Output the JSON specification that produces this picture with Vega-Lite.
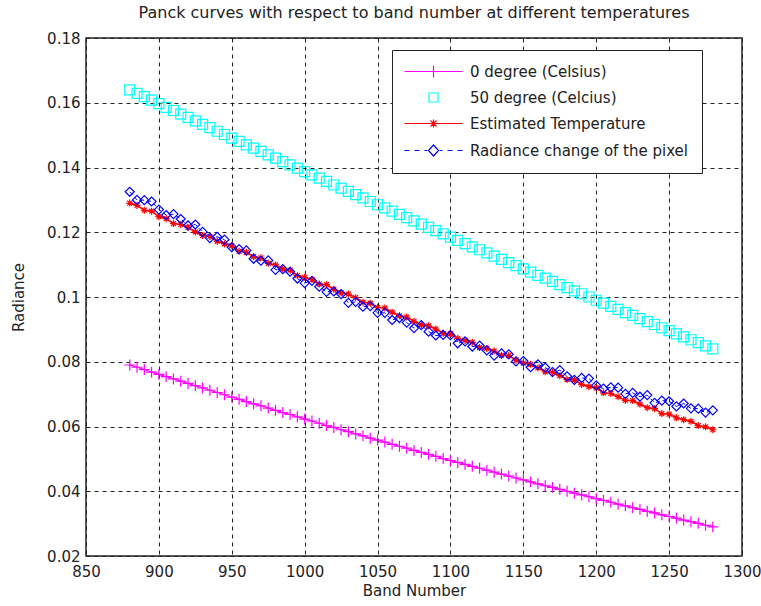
{
  "$schema": "https://vega.github.io/schema/vega-lite/v6.json",
  "width": 656,
  "height": 518,
  "autosize": {"type": "none"},
  "padding": {"left": 86, "top": 38, "right": 19, "bottom": 50},
  "background": "white",
  "title": {"text": "Panck curves with respect to band number at different temperatures", "font": "DejaVu Sans", "fontSize": 16, "fontWeight": "normal", "color": "#222", "offset": 10},
  "config": {"view": {"stroke": "#222", "strokeWidth": 1.5}, "font": "DejaVu Sans",
    "legend": {"title": null, "orient": "none", "legendX": 306, "legendY": 12, "padding": 14, "fillColor": "white", "strokeColor": "#222", "labelFont": "DejaVu Sans", "labelFontSize": 15, "labelColor": "#222", "labelLimit": 400, "rowPadding": 10, "symbolOffset": 20, "labelOffset": 29, "symbolStrokeWidth": 1.2, "symbolSize": 100, "symbolOpacity": 1}},
  "data": {"values": [
    {"b":880,"m":0.0790,"c":0.1640,"e":0.1290,"r":0.1325},
    {"b":885,"m":0.0783,"c":0.1629,"e":0.1283,"r":0.1300},
    {"b":890,"m":0.0776,"c":0.1619,"e":0.1268,"r":0.1299},
    {"b":895,"m":0.0768,"c":0.1608,"e":0.1265,"r":0.1295},
    {"b":900,"m":0.0761,"c":0.1597,"e":0.1248,"r":0.1270},
    {"b":905,"m":0.0754,"c":0.1586,"e":0.1242,"r":0.1253},
    {"b":910,"m":0.0747,"c":0.1576,"e":0.1227,"r":0.1256},
    {"b":915,"m":0.0740,"c":0.1565,"e":0.1224,"r":0.1241},
    {"b":920,"m":0.0733,"c":0.1555,"e":0.1215,"r":0.1221},
    {"b":925,"m":0.0726,"c":0.1544,"e":0.1201,"r":0.1224},
    {"b":930,"m":0.0719,"c":0.1533,"e":0.1190,"r":0.1201},
    {"b":935,"m":0.0712,"c":0.1523,"e":0.1187,"r":0.1182},
    {"b":940,"m":0.0705,"c":0.1512,"e":0.1172,"r":0.1186},
    {"b":945,"m":0.0698,"c":0.1502,"e":0.1164,"r":0.1177},
    {"b":950,"m":0.0691,"c":0.1491,"e":0.1158,"r":0.1154},
    {"b":955,"m":0.0684,"c":0.1481,"e":0.1141,"r":0.1148},
    {"b":960,"m":0.0677,"c":0.1470,"e":0.1138,"r":0.1144},
    {"b":965,"m":0.0670,"c":0.1460,"e":0.1125,"r":0.1118},
    {"b":970,"m":0.0664,"c":0.1450,"e":0.1121,"r":0.1112},
    {"b":975,"m":0.0657,"c":0.1439,"e":0.1104,"r":0.1113},
    {"b":980,"m":0.0650,"c":0.1429,"e":0.1099,"r":0.1084},
    {"b":985,"m":0.0643,"c":0.1418,"e":0.1087,"r":0.1086},
    {"b":990,"m":0.0637,"c":0.1408,"e":0.1083,"r":0.1078},
    {"b":995,"m":0.0630,"c":0.1398,"e":0.1066,"r":0.1057},
    {"b":1000,"m":0.0623,"c":0.1387,"e":0.1061,"r":0.1043},
    {"b":1005,"m":0.0617,"c":0.1377,"e":0.1054,"r":0.1050},
    {"b":1010,"m":0.0610,"c":0.1367,"e":0.1040,"r":0.1032},
    {"b":1015,"m":0.0603,"c":0.1357,"e":0.1038,"r":0.1016},
    {"b":1020,"m":0.0597,"c":0.1346,"e":0.1024,"r":0.1017},
    {"b":1025,"m":0.0590,"c":0.1336,"e":0.1013,"r":0.1009},
    {"b":1030,"m":0.0584,"c":0.1326,"e":0.1009,"r":0.0982},
    {"b":1035,"m":0.0577,"c":0.1316,"e":0.0998,"r":0.0985},
    {"b":1040,"m":0.0571,"c":0.1306,"e":0.0984,"r":0.0970},
    {"b":1045,"m":0.0564,"c":0.1295,"e":0.0981,"r":0.0972},
    {"b":1050,"m":0.0558,"c":0.1285,"e":0.0968,"r":0.0951},
    {"b":1055,"m":0.0552,"c":0.1275,"e":0.0966,"r":0.0951},
    {"b":1060,"m":0.0545,"c":0.1265,"e":0.0953,"r":0.0929},
    {"b":1065,"m":0.0539,"c":0.1255,"e":0.0942,"r":0.0935},
    {"b":1070,"m":0.0533,"c":0.1245,"e":0.0938,"r":0.0921},
    {"b":1075,"m":0.0526,"c":0.1235,"e":0.0925,"r":0.0904},
    {"b":1080,"m":0.0520,"c":0.1225,"e":0.0914,"r":0.0913},
    {"b":1085,"m":0.0514,"c":0.1215,"e":0.0911,"r":0.0893},
    {"b":1090,"m":0.0508,"c":0.1205,"e":0.0901,"r":0.0881},
    {"b":1095,"m":0.0501,"c":0.1195,"e":0.0888,"r":0.0883},
    {"b":1100,"m":0.0495,"c":0.1185,"e":0.0887,"r":0.0882},
    {"b":1105,"m":0.0489,"c":0.1175,"e":0.0872,"r":0.0857},
    {"b":1110,"m":0.0483,"c":0.1165,"e":0.0866,"r":0.0863},
    {"b":1115,"m":0.0477,"c":0.1155,"e":0.0860,"r":0.0847},
    {"b":1120,"m":0.0471,"c":0.1146,"e":0.0844,"r":0.0850},
    {"b":1125,"m":0.0465,"c":0.1136,"e":0.0841,"r":0.0835},
    {"b":1130,"m":0.0459,"c":0.1126,"e":0.0833,"r":0.0819},
    {"b":1135,"m":0.0453,"c":0.1116,"e":0.0820,"r":0.0826},
    {"b":1140,"m":0.0447,"c":0.1106,"e":0.0819,"r":0.0823},
    {"b":1145,"m":0.0441,"c":0.1097,"e":0.0805,"r":0.0801},
    {"b":1150,"m":0.0435,"c":0.1087,"e":0.0796,"r":0.0802},
    {"b":1155,"m":0.0429,"c":0.1077,"e":0.0792,"r":0.0783},
    {"b":1160,"m":0.0423,"c":0.1067,"e":0.0781,"r":0.0792},
    {"b":1165,"m":0.0417,"c":0.1058,"e":0.0769,"r":0.0782},
    {"b":1170,"m":0.0412,"c":0.1048,"e":0.0767,"r":0.0768},
    {"b":1175,"m":0.0406,"c":0.1038,"e":0.0757,"r":0.0774},
    {"b":1180,"m":0.0400,"c":0.1029,"e":0.0745,"r":0.0755},
    {"b":1185,"m":0.0394,"c":0.1019,"e":0.0744,"r":0.0744},
    {"b":1190,"m":0.0389,"c":0.1010,"e":0.0730,"r":0.0750},
    {"b":1195,"m":0.0383,"c":0.1000,"e":0.0723,"r":0.0748},
    {"b":1200,"m":0.0377,"c":0.0990,"e":0.0719,"r":0.0727},
    {"b":1205,"m":0.0372,"c":0.0981,"e":0.0704,"r":0.0717},
    {"b":1210,"m":0.0366,"c":0.0971,"e":0.0702,"r":0.0721},
    {"b":1215,"m":0.0360,"c":0.0962,"e":0.0692,"r":0.0720},
    {"b":1220,"m":0.0355,"c":0.0952,"e":0.0681,"r":0.0701},
    {"b":1225,"m":0.0349,"c":0.0943,"e":0.0680,"r":0.0704},
    {"b":1230,"m":0.0344,"c":0.0933,"e":0.0669,"r":0.0692},
    {"b":1235,"m":0.0338,"c":0.0924,"e":0.0658,"r":0.0697},
    {"b":1240,"m":0.0333,"c":0.0915,"e":0.0655,"r":0.0673},
    {"b":1245,"m":0.0327,"c":0.0905,"e":0.0640,"r":0.0680},
    {"b":1250,"m":0.0322,"c":0.0896,"e":0.0638,"r":0.0678},
    {"b":1255,"m":0.0317,"c":0.0886,"e":0.0627,"r":0.0662},
    {"b":1260,"m":0.0311,"c":0.0877,"e":0.0621,"r":0.0671},
    {"b":1265,"m":0.0306,"c":0.0868,"e":0.0616,"r":0.0656},
    {"b":1270,"m":0.0301,"c":0.0859,"e":0.0603,"r":0.0655},
    {"b":1275,"m":0.0295,"c":0.0849,"e":0.0599,"r":0.0643},
    {"b":1280,"m":0.0290,"c":0.0840,"e":0.0590,"r":0.0650}
  ]},
  "transform": [{"fold": ["m", "c", "e", "r"], "as": ["s", "v"]}],
  "encoding": {
    "x": {"field": "b", "type": "quantitative",
      "scale": {"domain": [850, 1300], "nice": false, "zero": false},
      "axis": {"title": "Band Number", "values": [850,900,950,1000,1050,1100,1150,1200,1250,1300], "format": "d", "labelFont": "DejaVu Sans", "labelFontSize": 15, "labelColor": "#222", "titleFont": "DejaVu Sans", "titleFontSize": 15, "titleFontWeight": "normal", "titleColor": "#222", "titlePadding": 4, "labelPadding": 8, "tickSize": 0, "domain": false, "grid": true, "gridColor": "#222", "gridDash": [4, 4], "gridWidth": 1, "gridOpacity": 1, "labelFlush": false}},
    "y": {"field": "v", "type": "quantitative",
      "scale": {"domain": [0.02, 0.18], "nice": false, "zero": false},
      "axis": {"title": "Radiance", "values": [0.02,0.04,0.06,0.08,0.1,0.12,0.14,0.16,0.18], "format": "~g", "labelFont": "DejaVu Sans", "labelFontSize": 15, "labelColor": "#222", "titleFont": "DejaVu Sans", "titleFontSize": 15, "titleFontWeight": "normal", "titleColor": "#222", "titlePadding": 20, "labelPadding": 6, "tickSize": 0, "domain": false, "grid": true, "gridColor": "#222", "gridDash": [4, 4], "gridWidth": 1, "gridOpacity": 1, "labelFlush": false}},
    "color": {"field": "s", "type": "nominal",
      "scale": {"domain": ["m", "c", "e", "r"], "range": ["#ff00ff", "#00ffff", "#ff0000", "#0000ff"]},
      "legend": {"labelExpr": "datum.label === 'm' ? '0 degree (Celsius)' : datum.label === 'c' ? '50 degree (Celcius)' : datum.label === 'e' ? 'Estimated Temperature' : 'Radiance change of the pixel'"}}
  },
  "layer": [
    {"transform": [{"filter": "datum.s === 'm'"}],
     "mark": {"type": "line", "strokeWidth": 1.2}},
    {"transform": [{"filter": "datum.s === 'e'"}],
     "mark": {"type": "line", "strokeWidth": 1.6}},
    {"transform": [{"filter": "datum.s === 'r'"}],
     "mark": {"type": "line", "strokeWidth": 1, "strokeDash": [4, 3]}},
    {"transform": [{"filter": "datum.s === 'm'"}],
     "mark": {"type": "point", "filled": false, "strokeWidth": 1.2, "opacity": 1, "shape": "M-1,0L1,0M0,-1L0,1", "size": 120},
     "encoding": {"color": {"value": "#ff00ff"}}},
    {"transform": [{"filter": "datum.s === 'c'"}],
     "mark": {"type": "point", "filled": false, "strokeWidth": 1.2, "opacity": 1, "shape": "square", "size": 100},
     "encoding": {"color": {"value": "#00ffff"}}},
    {"transform": [{"filter": "datum.s === 'e'"}],
     "mark": {"type": "point", "filled": false, "strokeWidth": 1.2, "opacity": 1, "shape": "M-1,0L1,0M0,-1L0,1M-0.7,-0.7L0.7,0.7M-0.7,0.7L0.7,-0.7", "size": 49},
     "encoding": {"color": {"value": "#ff0000"}}},
    {"transform": [{"filter": "datum.s === 'r'"}],
     "mark": {"type": "point", "filled": false, "strokeWidth": 1.2, "opacity": 1, "shape": "diamond", "size": 81},
     "encoding": {"color": {"value": "#0000ff"}}},
    {"transform": [{"filter": "datum.b < 0"}],
     "mark": {"type": "point", "filled": false, "strokeWidth": 1.2, "opacity": 1},
     "encoding": {
       "shape": {"field": "s", "type": "nominal",
         "scale": {"domain": ["m", "c", "e", "r"], "range": [
           "M-5.8,0L5.8,0M0,-1.2L0,1.2",
           "M-0.9,-0.9L0.9,-0.9L0.9,0.9L-0.9,0.9Z",
           "M-5.8,0L5.8,0M0,-0.8L0,0.8M-0.6,-0.6L0.6,0.6M-0.6,0.6L0.6,-0.6",
           "M-5.8,0L-4.8,0M-3.8,0L-2.8,0M-1.8,0L-1.2,0M1.2,0L1.8,0M2.8,0L3.8,0M4.8,0L5.8,0M0,-1.1L1,0L0,1.1L-1,0Z"]},
         "legend": {"labelExpr": "datum.label === 'm' ? '0 degree (Celsius)' : datum.label === 'c' ? '50 degree (Celcius)' : datum.label === 'e' ? 'Estimated Temperature' : 'Radiance change of the pixel'"}}
     }}
  ]
}
